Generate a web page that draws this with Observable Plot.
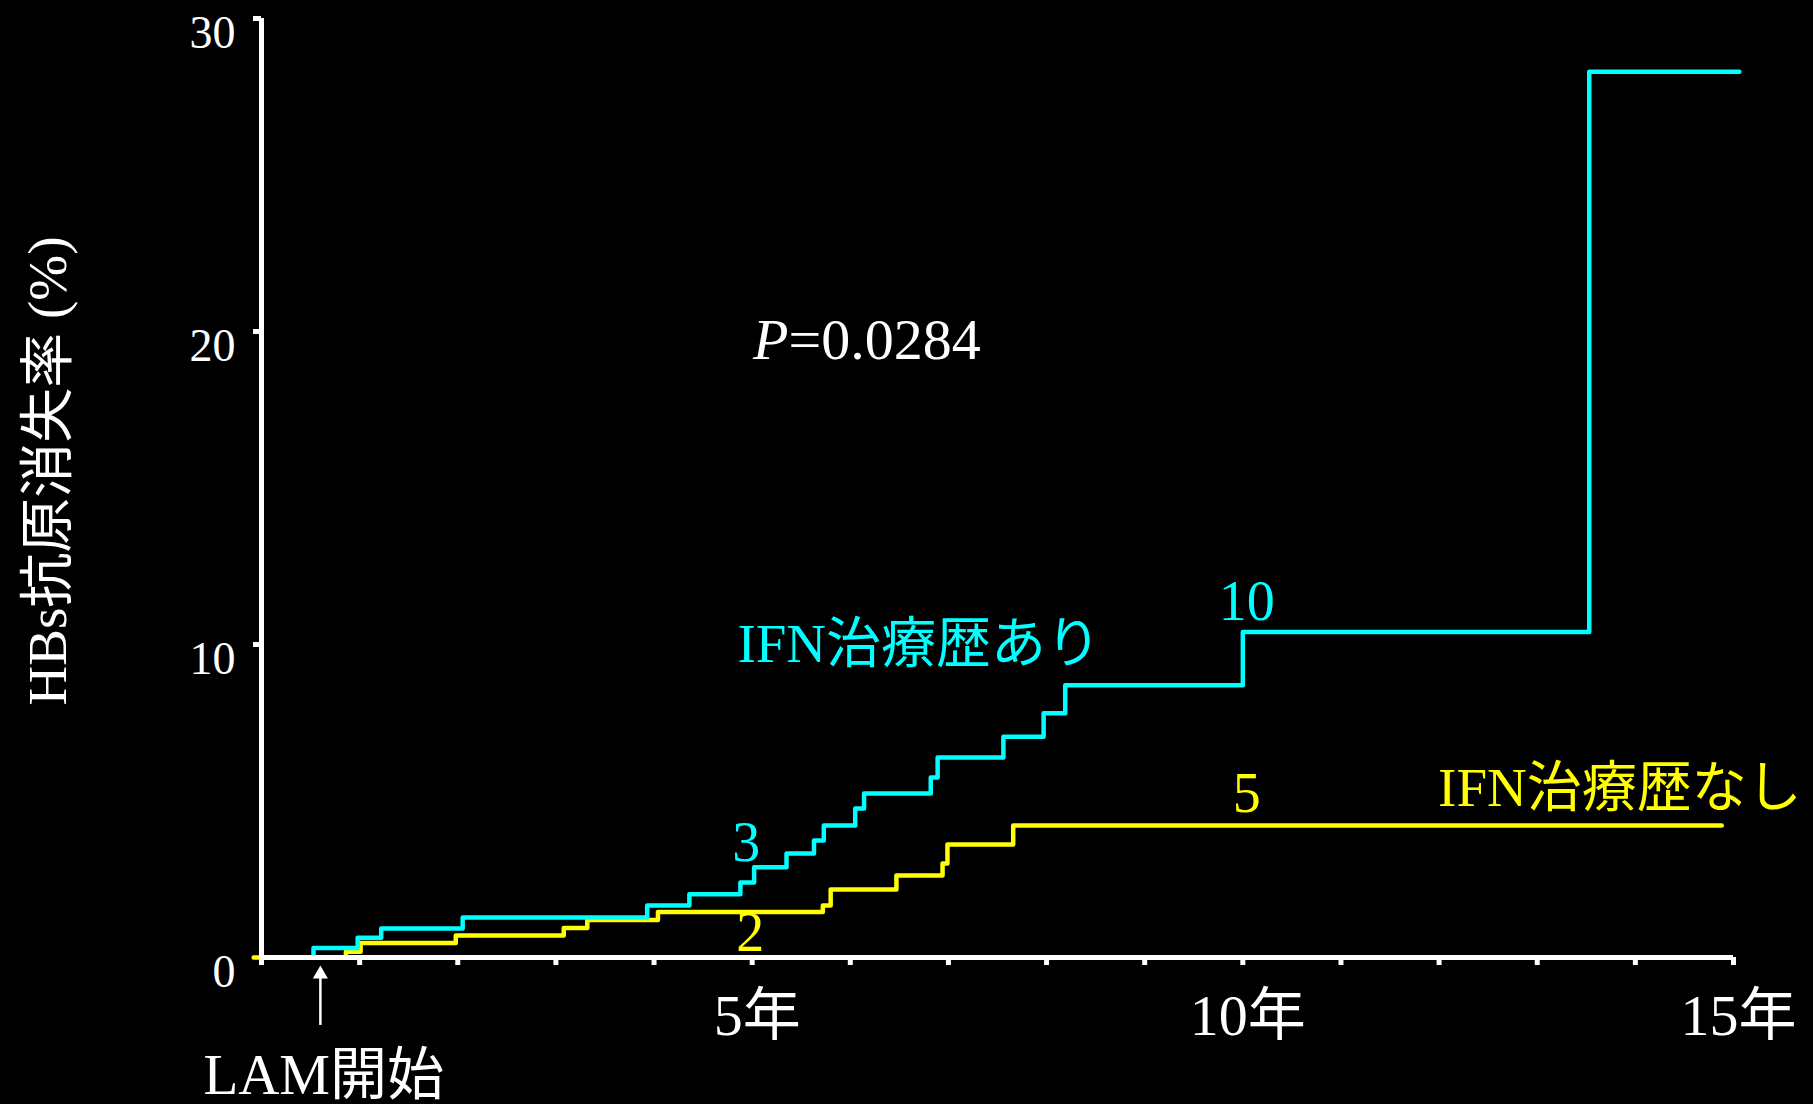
<!DOCTYPE html>
<html>
<head>
<meta charset="utf-8">
<script src="https://cdn.jsdelivr.net/npm/d3@7"></script>
<script src="https://cdn.jsdelivr.net/npm/@observablehq/plot@0.6"></script>
<style>
  html, body { margin: 0; padding: 0; background: #000; }
  #chart svg { display: block; }
</style>
</head>
<body>
<div id="chart"></div>
<script>
// ---- data (years since LAM start, cumulative HBsAg loss %) ----
const seriesNames = ["IFN治療歴あり", "IFN治療歴なし"];

const yearsWith = [0, 0.53, 0.98, 1.22, 2.05, 3.93, 4.36, 4.88, 5.02, 5.35, 5.63, 5.73, 6.05, 6.14, 6.82, 6.89, 7.56, 7.97, 8.19, 10.0, 13.53, 15.06];
const pctWith   = [0, 0.30, 0.63, 0.93, 1.28, 1.66, 2.02, 2.40, 2.88, 3.32, 3.74, 4.22, 4.76, 5.24, 5.75, 6.39, 7.05, 7.80, 8.70, 10.40, 28.30, 28.30];

const yearsWithout = [-0.08, 0.86, 1.01, 1.98, 3.08, 3.32, 4.04, 5.72, 5.80, 6.47, 6.94, 6.99, 7.66, 14.88];
const pctWithout   = [0, 0.18, 0.46, 0.70, 0.94, 1.20, 1.45, 1.66, 2.17, 2.62, 3.00, 3.61, 4.22, 4.22];

const xTickYears = d3.range(0, 16);
const xLabelYears = [5, 10, 15];
const xLabelTexts = ["5年", "10年", "15年"];
const yTickValues = [10, 20, 30];
const yLabelValues = [0, 10, 20, 30];

const yAxisTitle = "HBs抗原消失率 (%)";
const lamText = "LAM開始";
const lamStart = 0.6;
const pItalic = "P";
const pValue = "=0.0284";

// count labels (number of patients with loss) at data anchors
const countLabels = [
  {t: 4.94, p: 3.66, text: "3", s: 0},
  {t: 4.98, p: 0.77, text: "2", s: 1},
  {t: 10.04, p: 11.34, text: "10", s: 0},
  {t: 10.04, p: 5.22, text: "5", s: 1}
];
const seriesLabels = [
  {t: 4.85, p: 10.0, text: seriesNames[0], s: 0},
  {t: 11.99, p: 5.4, text: seriesNames[1], s: 1}
];

// ---- build tables ----
const colors = ["#00ffff", "#ffff00"];
const withData = yearsWith.map((t, i) => ({t, p: pctWith[i]}));
const withoutData = yearsWithout.map((t, i) => ({t, p: pctWithout[i]}));

const FONT = '"Liberation Serif", "DejaVu Serif", "Noto Sans CJK JP", serif';

const chart = Plot.plot({
  width: 1813,
  height: 1104,
  marginLeft: 261,
  marginRight: 80,
  marginTop: 18,
  marginBottom: 147,
  x: {domain: [0, 15], label: null},
  y: {domain: [0, 30], label: null},
  style: {background: "#000", color: "#fff", fontFamily: FONT, overflow: "visible"},
  marks: [
    Plot.line(withoutData, {x: "t", y: "p", curve: "step-after", stroke: colors[1], strokeWidth: 4.5}),
    Plot.line(withData, {x: "t", y: "p", curve: "step-after", stroke: colors[0], strokeWidth: 4.5}),
    Plot.ruleY([0], {stroke: "#fff", strokeWidth: 5}),
    Plot.ruleX([0], {stroke: "#fff", strokeWidth: 5}),
    Plot.axisX({ticks: xTickYears, tickSize: 8, strokeWidth: 5, stroke: "#fff", tickFormat: () => "", label: null}),
    Plot.axisX({ticks: xLabelYears, tickSize: 0, tickPadding: 36, fontSize: 58, fill: "#fff", dx: 5,
      tickFormat: d => xLabelTexts[xLabelYears.indexOf(d)], label: null}),
    Plot.axisY({ticks: yTickValues, tickSize: 8, strokeWidth: 5, stroke: "#fff", tickFormat: () => "", label: null}),
    Plot.text(yLabelValues, {x: 0, y: d => d, text: d => String(d), textAnchor: "end", dx: -26, dy: 15, fontSize: 46, fill: "#fff"}),
    Plot.text([yAxisTitle], {frameAnchor: "left", textAnchor: "middle", rotate: -90, dx: -213, dy: -17, fontSize: 55, fill: "#fff"}),
    // LAM start arrow
    Plot.ruleX([lamStart], {y1: -2.17, y2: -0.5, stroke: "#fff", strokeWidth: 2.5}),
    Plot.dot([lamStart], {x: d => d, y: -0.53, symbol: "triangle", r: 5.6, fill: "#fff", stroke: null}),
    Plot.text([lamText], {x: lamStart, y: -3.77, text: d => d, textAnchor: "start", dx: -117, fontSize: 57, fill: "#fff"}),
    // P value
    Plot.text([pItalic], {x: 5.37, y: 19.71, text: d => d, textAnchor: "end", fontStyle: "italic", fontSize: 58, fill: "#fff"}),
    Plot.text([pValue], {x: 5.37, y: 19.71, text: d => d, textAnchor: "start", fontSize: 58, fill: "#fff"}),
    // series labels & counts
    Plot.text(seriesLabels.slice(0, 1), {x: "t", y: "p", text: "text", fill: colors[0], textAnchor: "start", fontSize: 55}),
    Plot.text(seriesLabels.slice(1), {x: "t", y: "p", text: "text", fill: colors[1], textAnchor: "start", fontSize: 55}),
    Plot.text(countLabels, {x: "t", y: "p", text: "text", fill: d => colors[d.s], textAnchor: "middle", fontSize: 56})
  ]
});
document.getElementById("chart").appendChild(chart);
</script>
</body>
</html>
